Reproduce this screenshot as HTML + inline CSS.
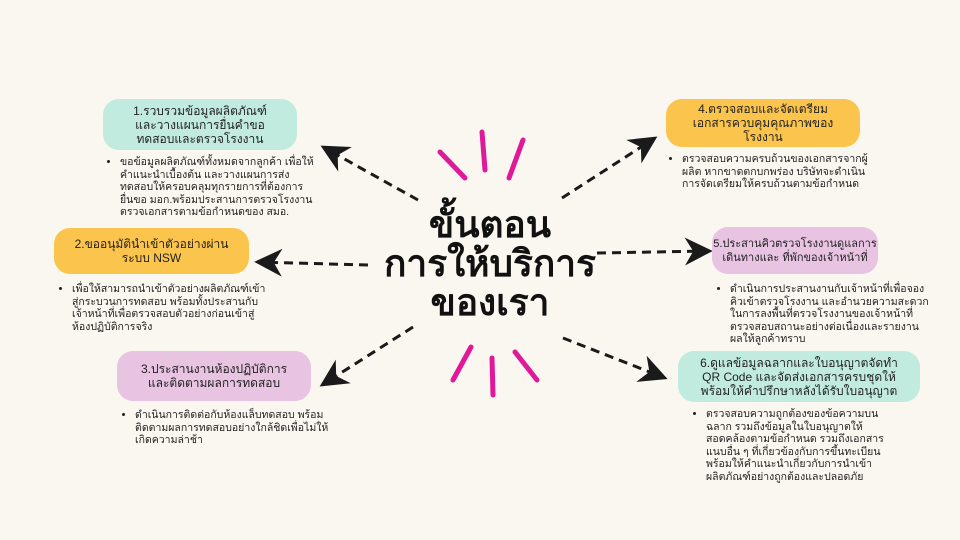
<!DOCTYPE html>
<html><head><meta charset="utf-8"><style>
body{margin:0;width:960px;height:540px;background:#faf7f0;position:relative;overflow:hidden;font-family:"Liberation Sans","DejaVu Sans",sans-serif;color:#1e1e1e}
.box{position:absolute;border-radius:16px;display:flex;align-items:center;justify-content:center;text-align:center;font-size:12px;line-height:14px;color:#222;white-space:nowrap}
.mint{background:#c2ebe0}.yel{background:#fbc44c}.pink{background:#e8c3e2}
ul{position:absolute;margin:0;padding-left:12px;font-size:10.5px;line-height:12.5px;color:#222;white-space:nowrap}
.title{position:absolute;left:340px;top:205px;width:300px;text-align:center;font-weight:bold;font-size:37px;line-height:39px;color:#111}
svg{position:absolute;left:0;top:0}
</style></head><body>
<svg width="960" height="540">
<defs><marker id="a" viewBox="0 0 20 20" refX="18" refY="10" markerWidth="28" markerHeight="28" markerUnits="userSpaceOnUse" orient="auto"><path d="M20 10 L0 0 L6 10 L0 20 Z" fill="#1a1a1a"/></marker></defs>
<g stroke="#1a1a1a" stroke-width="3" stroke-dasharray="9 6" fill="none">
<line x1="418" y1="200" x2="323" y2="147" marker-end="url(#a)"/>
<line x1="562" y1="198" x2="655" y2="138" marker-end="url(#a)"/>
<line x1="368" y1="265" x2="257" y2="262" marker-end="url(#a)"/>
<line x1="597" y1="253" x2="710" y2="251" marker-end="url(#a)"/>
<line x1="413" y1="327" x2="322" y2="385" marker-end="url(#a)"/>
<line x1="563" y1="338" x2="665" y2="378" marker-end="url(#a)"/>
</g>
<g stroke="#e0199a" stroke-width="5" stroke-linecap="round">
<line x1="440" y1="152" x2="465" y2="178"/>
<line x1="482" y1="132" x2="485" y2="170"/>
<line x1="523" y1="140" x2="509" y2="178"/>
<line x1="471" y1="347" x2="453" y2="380"/>
<line x1="492" y1="358" x2="493" y2="395"/>
<line x1="515" y1="352" x2="537" y2="380"/>
</g>
</svg>
<div class="title">ขั้นตอน<br>การให้บริการ<br>ของเรา</div>

<div class="box mint" style="left:103px;top:99px;width:194px;height:51px">1.รวบรวมข้อมูลผลิตภัณฑ์<br>และวางแผนการยื่นคำขอ<br>ทดสอบและตรวจโรงงาน</div>
<ul style="left:108px;top:156px"><li>ขอข้อมูลผลิตภัณฑ์ทั้งหมดจากลูกค้า เพื่อให้<br>คำแนะนำเบื้องต้น และวางแผนการส่ง<br>ทดสอบให้ครอบคลุมทุกรายการที่ต้องการ<br>ยื่นขอ มอก.พร้อมประสานการตรวจโรงงาน<br>ตรวจเอกสารตามข้อกำหนดของ สมอ.</li></ul>

<div class="box yel" style="left:666px;top:99px;width:194px;height:48px">4.ตรวจสอบและจัดเตรียม<br>เอกสารควบคุมคุณภาพของ<br>โรงงาน</div>
<ul style="left:670px;top:153px"><li>ตรวจสอบความครบถ้วนของเอกสารจากผู้<br>ผลิต หากขาดตกบกพร่อง บริษัทจะดำเนิน<br>การจัดเตรียมให้ครบถ้วนตามข้อกำหนด</li></ul>

<div class="box yel" style="left:54px;top:228px;width:195px;height:46px">2.ขออนุมัตินำเข้าตัวอย่างผ่าน<br>ระบบ NSW</div>
<ul style="left:60px;top:283px"><li>เพื่อให้สามารถนำเข้าตัวอย่างผลิตภัณฑ์เข้า<br>สู่กระบวนการทดสอบ พร้อมทั้งประสานกับ<br>เจ้าหน้าที่เพื่อตรวจสอบตัวอย่างก่อนเข้าสู่<br>ห้องปฏิบัติการจริง</li></ul>

<div class="box pink" style="left:712px;top:227px;width:166px;height:47px;font-size:11px">5.ประสานคิวตรวจโรงงานดูแลการ<br>เดินทางและ ที่พักของเจ้าหน้าที่</div>
<ul style="left:718px;top:283px"><li>ดำเนินการประสานงานกับเจ้าหน้าที่เพื่อจอง<br>คิวเข้าตรวจโรงงาน และอำนวยความสะดวก<br>ในการลงพื้นที่ตรวจโรงงานของเจ้าหน้าที่<br>ตรวจสอบสถานะอย่างต่อเนื่องและรายงาน<br>ผลให้ลูกค้าทราบ</li></ul>

<div class="box pink" style="left:117px;top:351px;width:194px;height:50px">3.ประสานงานห้องปฏิบัติการ<br>และติดตามผลการทดสอบ</div>
<ul style="left:123px;top:409px"><li>ดำเนินการติดต่อกับห้องแล็บทดสอบ พร้อม<br>ติดตามผลการทดสอบอย่างใกล้ชิดเพื่อไม่ให้<br>เกิดความล่าช้า</li></ul>

<div class="box mint" style="left:678px;top:351px;width:242px;height:51px">6.ดูแลข้อมูลฉลากและใบอนุญาตจัดทำ<br>QR Code และจัดส่งเอกสารครบชุดให้<br>พร้อมให้คำปรึกษาหลังได้รับใบอนุญาต</div>
<ul style="left:694px;top:408px"><li>ตรวจสอบความถูกต้องของข้อความบน<br>ฉลาก รวมถึงข้อมูลในใบอนุญาตให้<br>สอดคล้องตามข้อกำหนด รวมถึงเอกสาร<br>แนบอื่น ๆ ที่เกี่ยวข้องกับการขึ้นทะเบียน<br>พร้อมให้คำแนะนำเกี่ยวกับการนำเข้า<br>ผลิตภัณฑ์อย่างถูกต้องและปลอดภัย</li></ul>
</body></html>
